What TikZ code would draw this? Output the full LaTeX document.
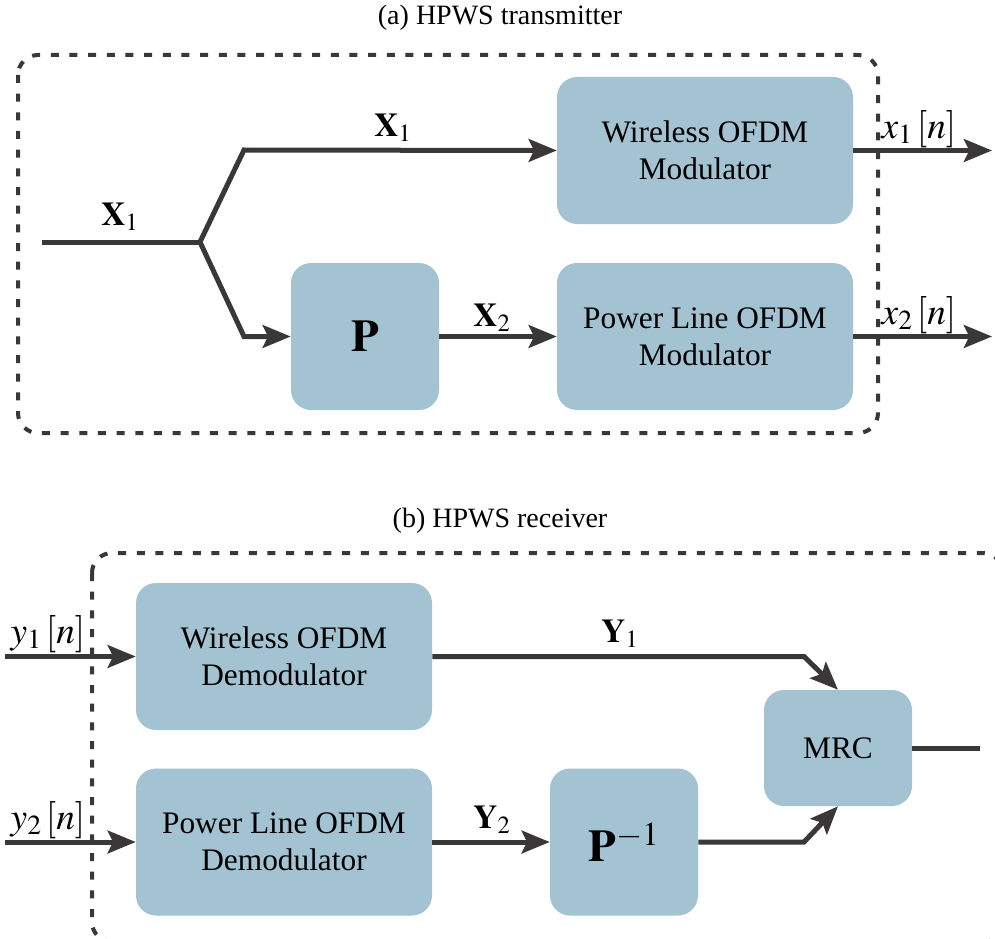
\documentclass[tikz,border=0pt]{standalone}
\usepackage{mathptmx}
\usepackage{fontspec}
\setmainfont{Liberation Serif}
\usetikzlibrary{arrows.meta}
\definecolor{boxc}{HTML}{A3C3D2}
\definecolor{linec}{HTML}{3A3739}
\begin{document}
\begin{tikzpicture}[x=0.75pt,y=-0.75pt,
 blk/.style={fill=boxc, rounded corners=15pt, inner sep=0pt, align=center, font=\fontsize{23.5}{27.75}\selectfont, text=black},
 wire/.style={line width=3.75pt, draw=linec, line join=miter},
 arr/.style={wire, -{Stealth[length=21pt,width=17pt,inset=4pt]}},
 frame/.style={line width=3pt, draw=linec, dash pattern=on 6pt off 8pt, rounded corners=15pt},
 lab/.style={font=\fontsize{25}{30}\selectfont, inner sep=0pt},
 sig/.style={font=\fontsize{28}{32}\selectfont, inner sep=0pt},
 ttl/.style={font=\fontsize{21}{25}\selectfont, inner sep=0pt}]
\useasboundingbox (0,0) rectangle (995,938);
\clip (0,0) rectangle (995,938);

% ---------- (a) transmitter ----------
\node[ttl] (ta) at (500,18) {(a) HPWS transmitter};
\draw[frame] (18,55) rectangle (878,433);

\node[blk, minimum width=222pt, minimum height=110.25pt] (wm) at (705,150.5) {Wireless OFDM\\Modulator};
\node[blk, minimum width=222pt, minimum height=110.25pt] (pm) at (705,336.5) {Power Line OFDM\\Modulator};
\node[blk, minimum width=111pt, minimum height=110.25pt, font=\fontsize{34}{40}\selectfont] (P) at (365,336.5) {$\mathbf{P}$};

\coordinate (in) at (42,242);
\coordinate (j) at (200,242);
\coordinate (ju) at (244,150);
\coordinate (jd) at (244,336.5);
\coordinate (o1) at (992,150.5);
\coordinate (o2) at (992,336.5);

\draw[wire] (in) -- (j);
\draw[arr] (j) -- (ju) -- (wm.west);
\draw[arr] (j) -- (jd) -- (P.west);
\draw[arr] (P.east) -- (pm.west);
\draw[arr] (wm.east) -- (o1);
\draw[arr] (pm.east) -- (o2);

\node[lab] (lx1a) at (120,217) {$\mathbf{X}_1$};
\node[lab] (lx1b) at (393,128) {$\mathbf{X}_1$};
\node[lab] (lx2) at (492,318) {$\mathbf{X}_2$};
\node[sig] (lo1) at (919,129) {$x_1\,[n]$};
\node[sig] (lo2) at (919,315) {$x_2\,[n]$};

% ---------- (b) receiver ----------
\node[ttl] (tb) at (500,521) {(b) HPWS receiver};
\draw[frame] (92,553) rectangle (1003,942);

\node[blk, minimum width=222pt, minimum height=110.25pt] (wd) at (284,656.5) {Wireless OFDM\\Demodulator};
\node[blk, minimum width=222pt, minimum height=110.25pt] (pd) at (284,842) {Power Line OFDM\\Demodulator};
\node[blk, minimum width=111pt, minimum height=110.25pt, font=\fontsize{34}{40}\selectfont] (Pi) at (624,842) {$\mathbf{P}^{-1}$};
\node[blk, minimum width=111pt, minimum height=87pt] (mrc) at (838,748) {MRC};

\coordinate (i1) at (5,656.5);
\coordinate (i2) at (5,842);
\coordinate (k1) at (804,656.5);
\coordinate (k2) at (804,842);
\coordinate (out) at (980,748);

\draw[arr] (i1) -- (wd.west);
\draw[arr] (i2) -- (pd.west);
\draw[arr] (wd.east) -- (k1) -- (mrc.north);
\draw[arr] (pd.east) -- (Pi.west);
\draw[arr] (Pi.east) -- (k2) -- (mrc.south);
\draw[wire] (mrc.east) -- (out);

\node[lab] (ly1) at (620,634) {$\mathbf{Y}_1$};
\node[lab] (ly2) at (492,820) {$\mathbf{Y}_2$};
\node[sig] (li1) at (48,634) {$y_1\,[n]$};
\node[sig] (li2) at (48,820) {$y_2\,[n]$};
\end{tikzpicture}
\end{document}
